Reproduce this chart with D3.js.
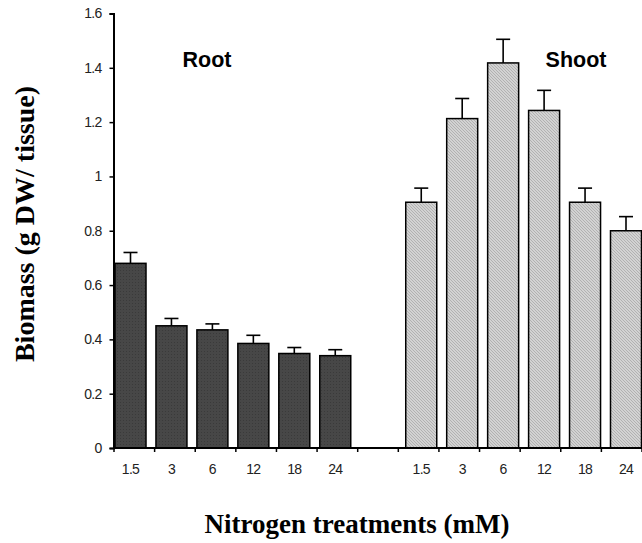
<!DOCTYPE html>
<html lang="en"><head><meta charset="UTF-8">
<title>Biomass by nitrogen treatment</title>
<script src="https://cdn.jsdelivr.net/npm/d3@7/dist/d3.min.js"></script>
<style>
  body { margin: 0; background: #fff; }
  text { font-family: "Liberation Sans", Arial, sans-serif; }
</style>
</head>
<body>
<script>
// data
var treatments = ["1.5", "3", "6", "12", "18", "24"];
var rootValues = [0.68, 0.45, 0.435, 0.385, 0.348, 0.34];
var rootErrors = [0.04, 0.027, 0.022, 0.03, 0.022, 0.022];
var shootValues = [0.905, 1.213, 1.418, 1.243, 0.905, 0.80];
var shootErrors = [0.052, 0.074, 0.087, 0.074, 0.052, 0.052];
var yTicks = [0, 0.2, 0.4, 0.6, 0.8, 1, 1.2, 1.4, 1.6];

var w = 642, h = 543;

var svg = d3.select("body").append("svg")
  .attr("width", w).attr("height", h);

var defs = svg.append("defs");
// dark stipple for root bars
var pRoot = defs.append("pattern").attr("id", "rootFill")
  .attr("patternUnits", "userSpaceOnUse").attr("width", 3).attr("height", 3);
pRoot.append("rect").attr("width", 3).attr("height", 3).attr("fill", "#474747");
pRoot.append("rect").attr("width", 1).attr("height", 1).attr("fill", "#3a3a3a");
// light diagonal hatch for shoot bars
var pShoot = defs.append("pattern").attr("id", "shootFill")
  .attr("patternUnits", "userSpaceOnUse").attr("width", 3).attr("height", 3);
pShoot.append("rect").attr("width", 3).attr("height", 3).attr("fill", "#d2d2d2");
pShoot.append("path").attr("d", "M0,0 L3,3").attr("stroke", "#a8a8a8").attr("stroke-width", 0.8);

//scales
var y = d3.scaleLinear().domain([0, 1.6]).range([448, 13.5]);
var xTick = d3.scaleLinear().domain([0, 13]).range([113.5, 641.5]);
var x = d3.scaleLinear().domain([0, 12.1]).range([130.5, 626]);
var barW = 31;

var rows = [];
treatments.forEach(function(t, i) {
  rows.push({label: t, pos: i, v: rootValues[i], e: rootErrors[i], fill: "url(#rootFill)"});
});
treatments.forEach(function(t, i) {
  rows.push({label: t, pos: 7.1 + i, v: shootValues[i], e: shootErrors[i], fill: "url(#shootFill)"});
});

// error bars (drawn first so bar outline sits on top)
var eb = svg.append("g").attr("stroke", "#000").attr("stroke-width", 1.6);
eb.selectAll("line.v").data(rows).enter().append("line")
  .attr("x1", function(d) { return x(d.pos); })
  .attr("x2", function(d) { return x(d.pos); })
  .attr("y1", function(d) { return y(d.v); })
  .attr("y2", function(d) { return y(d.v + d.e); });
eb.selectAll("line.c").data(rows).enter().append("line")
  .attr("x1", function(d) { return x(d.pos) - 7; })
  .attr("x2", function(d) { return x(d.pos) + 7; })
  .attr("y1", function(d) { return y(d.v + d.e); })
  .attr("y2", function(d) { return y(d.v + d.e); });

svg.append("g").selectAll("rect").data(rows).enter().append("rect")
  .attr("x", function(d) { return x(d.pos) - barW / 2; })
  .attr("y", function(d) { return y(d.v); })
  .attr("width", barW)
  .attr("height", function(d) { return y(0) - y(d.v); })
  .attr("fill", function(d) { return d.fill; })
  .attr("stroke", "#000").attr("stroke-width", 1.5);

// y axis
var yAxis = d3.axisLeft(y).tickValues(yTicks).tickSize(4).tickPadding(8)
  .tickFormat(function(d) { return String(d); });
var gy = svg.append("g").attr("transform", "translate(113.5,0)").call(yAxis);
gy.select(".domain").attr("stroke-width", 2);
gy.selectAll(".tick line").attr("stroke-width", 1.5);
gy.selectAll("text").attr("font-size", 14).attr("fill", "#222")
  .attr("letter-spacing", -0.7)
  .attr("font-family", "Liberation Sans, Arial, sans-serif");

// x axis: plain ticks at slot boundaries
var xAxis = d3.axisBottom(xTick).ticks(13).tickSize(4).tickFormat("");
var gx = svg.append("g").attr("transform", "translate(0,448)").call(xAxis);
gx.select(".domain").attr("stroke-width", 2).attr("d", "M113.5,0H642");
gx.selectAll(".tick line").attr("stroke-width", 1.5);

svg.append("g").selectAll("text").data(rows).enter().append("text")
  .attr("x", function(d) { return x(d.pos); })
  .attr("y", 474)
  .attr("text-anchor", "middle")
  .attr("font-size", 14).attr("letter-spacing", -0.7).attr("fill", "#222")
  .text(function(d) { return d.label; });

// group labels
svg.append("text").attr("x", 207).attr("y", 67).attr("text-anchor", "middle")
  .attr("font-size", 21.5).attr("font-weight", "bold").text("Root");
svg.append("text").attr("x", 576).attr("y", 67).attr("text-anchor", "middle")
  .attr("font-size", 21.5).attr("font-weight", "bold").text("Shoot");

// axis titles
svg.append("text").attr("x", 357).attr("y", 533).attr("text-anchor", "middle")
  .style("font-family", "Liberation Serif, Times New Roman, serif")
  .attr("font-size", 27).attr("font-weight", "bold")
  .text("Nitrogen treatments (mM)");
svg.append("text")
  .attr("transform", "translate(34,224) rotate(-90)")
  .attr("text-anchor", "middle")
  .style("font-family", "Liberation Serif, Times New Roman, serif")
  .attr("font-size", 28).attr("font-weight", "bold")
  .text("Biomass (g DW/ tissue)");
</script>
</body></html>
